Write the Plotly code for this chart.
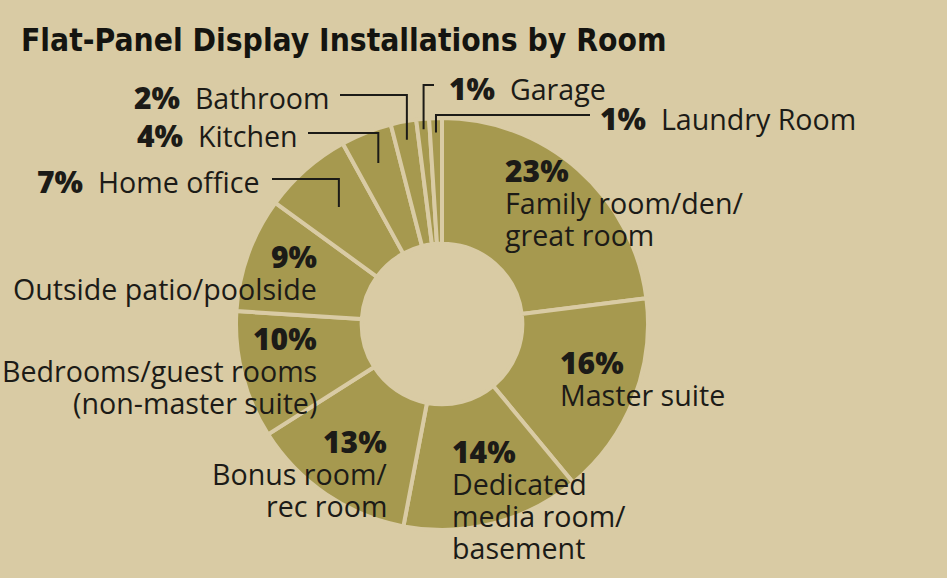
import math
import plotly.graph_objects as go

# ---- data ----
rooms = ["Family room/den/great room", "Master suite", "Dedicated media room/basement",
         "Bonus room/rec room", "Bedrooms/guest rooms (non-master suite)",
         "Outside patio/poolside", "Home office", "Kitchen", "Bathroom", "Garage", "Laundry Room"]
shares = [23, 16, 14, 13, 10, 9, 7, 4, 2, 1, 1]

# ---- style / layout ----
W, H = 947, 578
BG = "#d9cba4"
SLICE = "#a6994f"
INK = "#1c1b17"
FONT = "Open Sans"
NAME_SIZE = 28.6
PCT_SIZE = 30
CX, CY, R = 442, 324, 206
HOLE = 0.39

def px(x):
    return x / W

def py(y):
    return 1 - y / H

fig = go.Figure(go.Pie(
    labels=rooms, values=shares, sort=False, direction="clockwise", rotation=0,
    hole=HOLE, textinfo="none", hoverinfo="label+percent",
    marker=dict(colors=[SLICE] * len(shares), line=dict(color=BG, width=4)),
    domain=dict(x=[px(CX - R), px(CX + R)], y=[py(CY + R), py(CY - R)]),
    showlegend=False,
))

ann = []

def text(x, y, s, anchor="left", size=NAME_SIZE, weight=400):
    ann.append(dict(x=px(x), y=py(y), xref="paper", yref="paper", text=s,
                    showarrow=False, xanchor=anchor, yanchor="middle",
                    font=dict(family=FONT, size=size, color=INK, weight=weight)))

# title
ann.append(dict(x=px(19), y=py(40), xref="paper", yref="paper",
                text="<b>Flat-Panel Display Installations by Room</b>", showarrow=False,
                xanchor="left", yanchor="middle",
                font=dict(family="DejaVu Sans Condensed, Liberation Sans Narrow, Roboto Condensed, Roboto",
                          size=31.5, color="#141410")))

NB = "\u00a0"
# inside labels (percent + name lines)
inside = {
    0: dict(x=503, y=170, anchor="left", lines=["Family room/den/", "great room"]),
    1: dict(x=558, y=362, anchor="left", lines=["Master suite"]),
    2: dict(x=450, y=451, anchor="left", lines=["Dedicated", "media room/", "basement"]),
    3: dict(x=389, y=441, anchor="right", lines=["Bonus room/", "rec room"]),
    4: dict(x=319, y=338, anchor="right", lines=["Bedrooms/guest rooms", "(non-master suite)"]),
    5: dict(x=319, y=256, anchor="right", lines=["Outside patio/poolside"]),
}
for i, d in inside.items():
    text(d["x"], d["y"], f"{shares[i]}%", d["anchor"], size=PCT_SIZE, weight=800)
    for k, ln in enumerate(d["lines"]):
        text(d["x"], d["y"] + 32 * (k + 1), ln, d["anchor"])

# outside labels with leader lines
outside = {
    6: dict(ty=182, tx=262, side="right", ly=179, lx=272, rf=0.757),
    7: dict(ty=135, tx=300, side="right", ly=133, lx=308, rf=0.84),
    8: dict(ty=97, tx=332, side="right", ly=95, lx=340, rf=0.91),
    9: dict(ty=88, tx=447, side="left", ly=85, lx=434, rf=0.95),
    10: dict(ty=118, tx=598, side="left", ly=115, lx=590, rf=0.93),
}
total = sum(shares)
cum = [sum(shares[:i]) for i in range(len(shares))]
shapes = []
for i, d in outside.items():
    name = rooms[i]
    text(d["tx"], d["ty"],
         f"<span style='font-size:{PCT_SIZE}px;font-weight:800'>{shares[i]}%</span>{NB}{NB}{name}",
         d["side"])
    ang = 2 * math.pi * (cum[i] + shares[i] / 2) / total
    ex = CX + R * d["rf"] * math.sin(ang)
    ey = CY - R * d["rf"] * math.cos(ang)
    path = f"M {px(d['lx'])},{py(d['ly'])} L {px(ex)},{py(d['ly'])} L {px(ex)},{py(ey)}"
    shapes.append(dict(type="path", xref="paper", yref="paper", path=path,
                       line=dict(color=INK, width=2)))

fig.update_layout(
    width=W, height=H, margin=dict(l=0, r=0, t=0, b=0),
    paper_bgcolor=BG, plot_bgcolor=BG,
    annotations=ann, shapes=shapes,
)

fig.write_html("out.html", config={"displayModeBar": False},
               post_script="document.body.style.margin='0';document.body.style.background='%s';" % BG)
